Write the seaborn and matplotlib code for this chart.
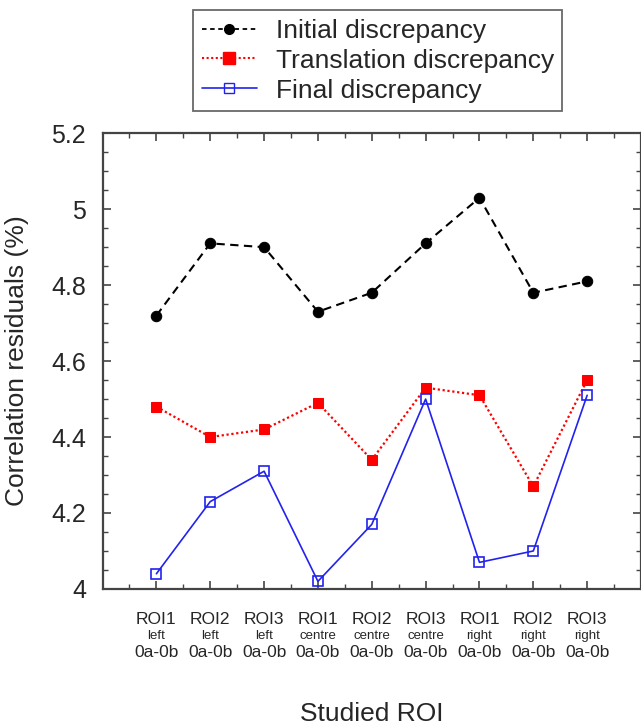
import matplotlib
matplotlib.use("Agg")
import matplotlib.pyplot as plt
import seaborn as sns
import numpy as np
import pandas as pd
from matplotlib.ticker import MultipleLocator, FuncFormatter
from matplotlib.lines import Line2D
import matplotlib.transforms as mtransforms

roi_names = ["ROI1", "ROI2", "ROI3", "ROI1", "ROI2", "ROI3", "ROI1", "ROI2", "ROI3"]
roi_sides = ["left", "left", "left", "centre", "centre", "centre", "right", "right", "right"]
roi_pairs = ["0a-0b"] * 9

initial = [4.72, 4.91, 4.90, 4.73, 4.78, 4.91, 5.03, 4.78, 4.81]
translation = [4.48, 4.40, 4.42, 4.49, 4.34, 4.53, 4.51, 4.27, 4.55]
final = [4.04, 4.23, 4.31, 4.02, 4.17, 4.50, 4.07, 4.10, 4.51]

series_names = ["Initial discrepancy", "Translation discrepancy", "Final discrepancy"]

sns.set_theme(style="white")
plt.rcParams['font.family'] = ['Liberation Sans', 'DejaVu Sans']

fig = plt.figure(figsize=(6.41, 7.28), dpi=100)
ax = fig.add_axes([0.160, 0.191, 0.840, 0.626])

pos = np.arange(1, len(roi_names) + 1)
df = pd.DataFrame({"pos": pos, "initial": initial, "translation": translation, "final": final})

sns.lineplot(data=df, x="pos", y="initial", ax=ax, color="black", linestyle=(0, (4, 2.6)),
             linewidth=1.5, marker="o", markersize=7.5, markeredgecolor="black",
             markerfacecolor="black", label=series_names[0])
sns.lineplot(data=df, x="pos", y="translation", ax=ax, color="#ff0000", linestyle=(0, (1.0, 1.2)),
             linewidth=1.6, marker="s", markersize=7, markeredgecolor="#ff0000",
             markerfacecolor="#ff0000", label=series_names[1])
sns.lineplot(data=df, x="pos", y="final", ax=ax, color="#2222ee", linestyle="-",
             linewidth=1.2, marker="s", markersize=6.8, markeredgecolor="#2222ee",
             markerfacecolor="none", markeredgewidth=1.2, label=series_names[2])

ax.set_xlim(0, 10)
ax.set_ylim(4, 5.2)
ax.yaxis.set_major_locator(MultipleLocator(0.2))
ax.yaxis.set_minor_locator(MultipleLocator(0.05))
ax.yaxis.set_major_formatter(FuncFormatter(lambda v, p: f"{v:g}"))
ax.set_xticks(pos)
ax.set_xticks(np.arange(0.5, 10, 1.0), minor=True)
ax.set_xticklabels([])
ax.tick_params(which="both", direction="in", top=True, right=True, bottom=True, left=True,
               color="#444444", labelsize=18, pad=12)
ax.tick_params(which="major", length=6, width=1.2)
ax.tick_params(which="minor", length=3.5, width=1.0)
for s in ax.spines.values():
    s.set_color("#444444")
    s.set_linewidth(1.6)

ax.set_xlabel("Studied ROI", fontsize=19)
ax.xaxis.set_label_coords(0.5, -0.274)
ax.xaxis.label.set_va("center")
ax.set_ylabel("Correlation residuals (%)", fontsize=19)
ax.yaxis.set_label_coords(-0.158, 0.5)
ax.yaxis.label.set_va("center")

trans = mtransforms.blended_transform_factory(ax.transData, ax.transAxes)
for x, n, s, p in zip(pos, roi_names, roi_sides, roi_pairs):
    ax.text(x, -0.068, n, transform=trans, ha="center", va="center", fontsize=12.5)
    ax.text(x, -0.104, s, transform=trans, ha="center", va="center", fontsize=9.5)
    ax.text(x, -0.140, p, transform=trans, ha="center", va="center", fontsize=12.5)

ax.get_legend().remove()
handles = [
    Line2D([], [], color="black", linestyle=(0, (2.5, 2)), linewidth=1.3, marker="o",
           markersize=7, markerfacecolor="black"),
    Line2D([], [], color="#ff0000", linestyle=(0, (1, 1.2)), linewidth=1.5, marker="s",
           markersize=8, markerfacecolor="#ff0000", markeredgecolor="#ff0000"),
    Line2D([], [], color="#2222ee", linestyle="-", linewidth=1.2, marker="s",
           markersize=6.5, markerfacecolor="none", markeredgecolor="#2222ee"),
]
leg = fig.legend(handles, series_names, loc="upper left", bbox_to_anchor=(0.301, 0.986),
                 fontsize=19, frameon=True, fancybox=False, handlelength=2.1,
                 borderpad=0.33, labelspacing=0.22, handletextpad=0.7, borderaxespad=0)
leg.get_frame().set_edgecolor("#444444")
leg.get_frame().set_linewidth(1.3)

fig.savefig("out.png", dpi=100)
